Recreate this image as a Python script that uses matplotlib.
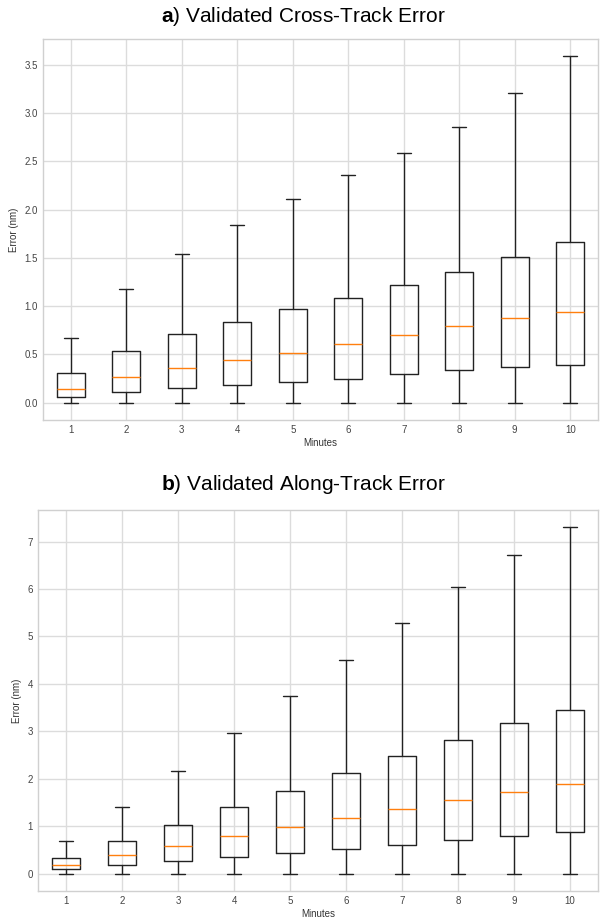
import matplotlib
matplotlib.use("Agg")
import matplotlib.pyplot as plt
from matplotlib.ticker import MultipleLocator

plt.style.use("seaborn-v0_8-whitegrid")
plt.rcParams["font.family"] = ["Liberation Sans", "DejaVu Sans"]
plt.rcParams["mathtext.fontset"] = "custom"
plt.rcParams["mathtext.rm"] = "Liberation Sans"
plt.rcParams["mathtext.bf"] = "Liberation Sans:bold"
plt.rcParams["grid.color"] = "#dcdcdc"
plt.rcParams["grid.linewidth"] = 1.0

minutes = [1, 2, 3, 4, 5, 6, 7, 8, 9, 10]

# a) cross-track error (nm)
cross_low = [0, 0, 0, 0, 0, 0, 0, 0, 0, 0]
cross_q1 = [0.06, 0.115, 0.155, 0.185, 0.215, 0.245, 0.30, 0.34, 0.375, 0.395]
cross_med = [0.145, 0.27, 0.36, 0.445, 0.52, 0.61, 0.705, 0.79, 0.875, 0.935]
cross_q3 = [0.31, 0.54, 0.715, 0.84, 0.975, 1.09, 1.215, 1.35, 1.505, 1.67]
cross_high = [0.675, 1.18, 1.54, 1.84, 2.11, 2.36, 2.59, 2.86, 3.21, 3.59]

# b) along-track error (nm)
along_low = [0, 0, 0, 0, 0, 0, 0, 0, 0, 0]
along_q1 = [0.105, 0.19, 0.27, 0.36, 0.44, 0.53, 0.61, 0.70, 0.80, 0.87]
along_med = [0.19, 0.40, 0.59, 0.785, 0.975, 1.18, 1.37, 1.56, 1.73, 1.90]
along_q3 = [0.34, 0.68, 1.03, 1.395, 1.75, 2.13, 2.49, 2.825, 3.17, 3.44]
along_high = [0.68, 1.395, 2.17, 2.96, 3.735, 4.51, 5.29, 6.035, 6.715, 7.30]


def make_stats(low, q1, med, q3, high):
    stats = []
    for i in range(len(minutes)):
        stats.append({"label": str(minutes[i]), "whislo": low[i], "q1": q1[i],
                      "med": med[i], "q3": q3[i], "whishi": high[i], "fliers": []})
    return stats


def draw_box(ax, stats, step):
    ax.bxp(stats, positions=minutes, widths=0.5, showfliers=False,
           boxprops=dict(color="#222222", linewidth=1.0),
           whiskerprops=dict(color="#222222", linewidth=1.0),
           capprops=dict(color="#222222", linewidth=1.0),
           medianprops=dict(color="#ff7f0e", linewidth=1.0))
    ax.yaxis.set_major_locator(MultipleLocator(step))
    ax.tick_params(labelsize=7, colors="#444444")
    ax.set_xlabel("Minutes", fontsize=7, color="#333333", labelpad=2)
    ax.set_ylabel("Error (nm)", fontsize=7, color="#333333", labelpad=4)
    for s in ax.spines.values():
        s.set_color("#d0d0d0")


fig = plt.figure(figsize=(6, 9.19), dpi=100)
ax1 = fig.add_axes([43 / 600, 1 - 420 / 919, 555 / 600, 381 / 919])
ax2 = fig.add_axes([38 / 600, 1 - 891 / 919, 560 / 600, 381 / 919])

draw_box(ax1, make_stats(cross_low, cross_q1, cross_med, cross_q3, cross_high), 0.5)
draw_box(ax2, make_stats(along_low, along_q1, along_med, along_q3, along_high), 1)

fig.text(0.505, 1 - 17 / 919, r"$\mathbf{a}$) Validated Cross-Track Error",
         ha="center", va="center", fontsize=15, color="black")
fig.text(0.505, 1 - 485 / 919, r"$\mathbf{b}$) Validated Along-Track Error",
         ha="center", va="center", fontsize=15, color="black")

fig.savefig("out.png", dpi=100)
